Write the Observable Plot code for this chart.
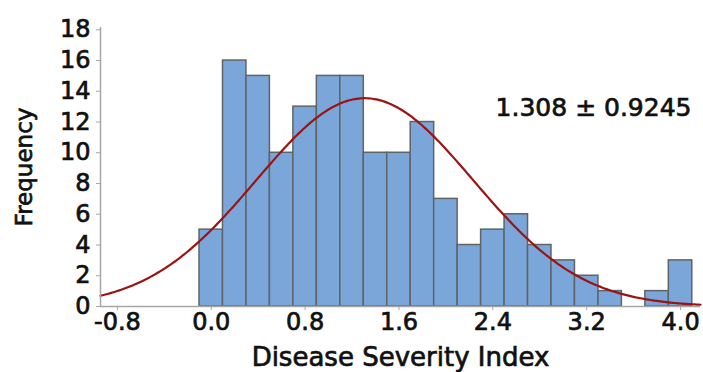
<!DOCTYPE html>
<html>
<head>
<meta charset="utf-8">
<script src="https://cdn.jsdelivr.net/npm/d3@7"></script>
<script src="https://cdn.jsdelivr.net/npm/@observablehq/plot@0.6"></script>
<style>
  html, body { margin: 0; padding: 0; background: #fff; }
  #chart svg { display: block; }
  /* slightly heavier lettering */
  #chart svg text { stroke: #111; stroke-width: 0.7px; }
</style>
</head>
<body>
<div id="chart"></div>
<script>
// Histogram of the disease severity index, bins of width 0.2
const binCenters = [0.0, 0.2, 0.4, 0.6, 0.8, 1.0, 1.2, 1.4, 1.6, 1.8, 2.0,
                    2.2, 2.4, 2.6, 2.8, 3.0, 3.2, 3.4, 3.6, 3.8, 4.0];
const counts     = [5, 16, 15, 10, 13, 15, 15, 10, 10, 12, 7,
                    4, 5, 6, 4, 3, 2, 1, 0, 1, 3];
const binWidth = 0.2;

// Fitted normal distribution (mean ± sd)
const mean = 1.308;
const sd = 0.9245;

const xTicks = [-0.8, 0.0, 0.8, 1.6, 2.4, 3.2, 4.0];
const yTicks = [0, 2, 4, 6, 8, 10, 12, 14, 16, 18];

const xDomain = [-0.944, 4.17];
const yDomain = [0, 18.15];

const bins = binCenters.map((c, i) => ({
  x1: c - binWidth / 2,
  x2: c + binWidth / 2,
  count: counts[i]
}));

// Normal density scaled to counts: N * binWidth * pdf(x)
const total = d3.sum(counts);
const curve = d3.range(0, 301).map(i => {
  const x = xDomain[0] + (xDomain[1] - xDomain[0]) * i / 300;
  const z = (x - mean) / sd;
  return { x, y: total * binWidth * Math.exp(-0.5 * z * z) / (sd * Math.sqrt(2 * Math.PI)) };
});

const fmt = d => d.toFixed(1);

const chart = Plot.plot({
  width: 703,
  height: 372,
  marginLeft: 100,
  marginRight: 3,
  marginTop: 27,
  marginBottom: 66,
  style: { fontFamily: "DejaVu Sans", fontSize: "24px", color: "#111", background: "#fff" },
  x: { domain: xDomain, ticks: xTicks, tickFormat: fmt },
  y: { domain: yDomain, ticks: yTicks },
  marks: [
    Plot.rectY(bins.filter(d => d.count > 0), {
      x1: "x1", x2: "x2", y: "count",
      fill: "#7ba6d9", stroke: "#5f6468", strokeWidth: 1.5
    }),
    Plot.line(curve, { x: "x", y: "y", stroke: "#9a1414", strokeWidth: 2.2, curve: "linear" }),
    // axis lines
    Plot.ruleY([0], { stroke: "#a6a6a6", strokeWidth: 1.5 }),
    Plot.ruleX([xDomain[0]], { stroke: "#a6a6a6", strokeWidth: 1.5 }),
    Plot.axisX({
      ticks: xTicks, tickFormat: fmt, tickSize: 4, tickPadding: 2,
      stroke: "#a6a6a6", fill: "#111",
      label: null
    }),
    Plot.axisY({
      ticks: yTicks, tickSize: 4, tickPadding: 6,
      stroke: "#a6a6a6", fill: "#111",
      label: null
    }),
    Plot.text(["Disease Severity Index"], {
      frameAnchor: "bottom", dy: 59, fontSize: 26, fill: "#111", lineAnchor: "bottom"
    }),
    Plot.text(["Frequency"], {
      frameAnchor: "left", dx: -76, rotate: -90, fontSize: 23, fill: "#111",
      textAnchor: "middle"
    }),
    Plot.text([`${mean} ± ${sd}`], {
      frameAnchor: "top-right", dx: -9, dy: 71, fontSize: 25, fill: "#111", textAnchor: "end"
    })
  ]
});

document.getElementById("chart").appendChild(chart);
</script>
</body>
</html>
